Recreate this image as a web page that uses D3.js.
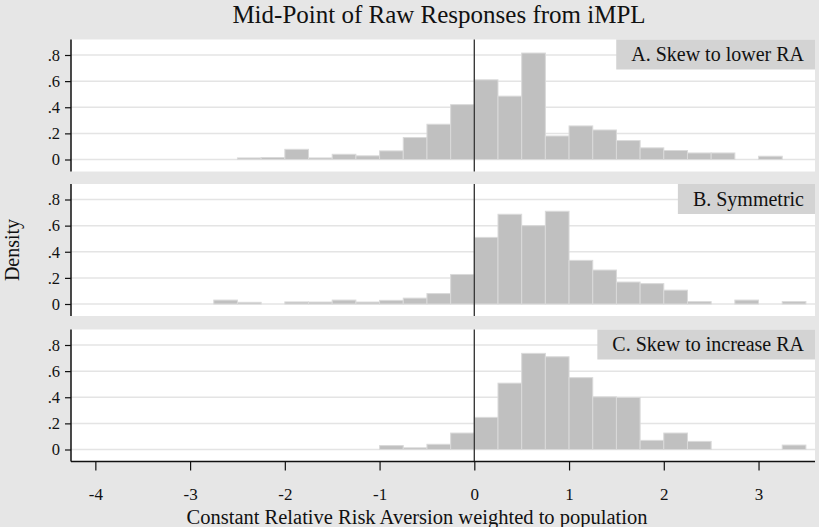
<!DOCTYPE html>
<html>
<head>
<meta charset="utf-8">
<script src="https://cdn.jsdelivr.net/npm/d3@7"></script>
<style>
  html, body { margin: 0; padding: 0; background: #e6e6e6; }
  svg { display: block; }
  text { font-family: "Liberation Serif", "Times New Roman", serif; fill: #111; }
</style>
</head>
<body>
<svg id="chart" width="819" height="527"></svg>
<script>
// Lower edges of the histogram bins (bin width 0.25)
const binWidth = 0.25;
const binStarts = [-2.75, -2.5, -2.25, -2, -1.75, -1.5, -1.25, -1, -0.75, -0.5, -0.25,
                   0, 0.25, 0.5, 0.75, 1, 1.25, 1.5, 1.75, 2, 2.25, 2.5, 2.75, 3, 3.25];

// Density per bin for each panel
const densityA = [0, 0.012, 0.015, 0.078, 0.012, 0.04, 0.028, 0.066, 0.168, 0.27, 0.42,
                  0.61, 0.485, 0.815, 0.18, 0.257, 0.226, 0.145, 0.089, 0.069, 0.05, 0.05, 0, 0.025, 0];
const densityB = [0.03, 0.013, 0, 0.016, 0.015, 0.03, 0.015, 0.028, 0.045, 0.08, 0.226,
                  0.51, 0.687, 0.6, 0.71, 0.334, 0.26, 0.168, 0.156, 0.106, 0.018, 0, 0.03, 0, 0.018];
const densityC = [0, 0, 0, 0, 0, 0, 0, 0.03, 0.013, 0.04, 0.126,
                  0.246, 0.508, 0.736, 0.71, 0.55, 0.403, 0.398, 0.07, 0.126, 0.062, 0, 0, 0, 0.034];

const panelTitles = ["A. Skew to lower RA", "B. Symmetric", "C. Skew to increase RA"];
const xTicks = [-4, -3, -2, -1, 0, 1, 2, 3];
const yTicks = [0, 0.2, 0.4, 0.6, 0.8];
const yTickLabels = ["0", ".2", ".4", ".6", ".8"];

const chartTitle = "Mid-Point of Raw Responses from iMPL";
const xTitle = "Constant Relative Risk Aversion weighted to population";
const yTitle = "Density";

const panels = [densityA, densityB, densityC];

const svg = d3.select("#chart");
const W = 819, H = 527;
svg.append("rect").attr("width", W).attr("height", H).attr("fill", "#e6e6e6");

const plotLeft = 71, plotRight = 815;
const panelTops = [39.5, 184, 329.5];
const panelH = 132;

const x = d3.scaleLinear().domain([-4.257, 3.596]).range([plotLeft, plotRight]);

panels.forEach((vals, i) => {
  const top = panelTops[i];
  const bottom = top + panelH;
  const y = d3.scaleLinear().domain([0, 0.8]).range([top + 120, top + 15.5]);
  const g = svg.append("g");

  // plot region
  g.append("rect")
    .attr("x", plotLeft).attr("y", top)
    .attr("width", plotRight - plotLeft).attr("height", panelH)
    .attr("fill", "#ffffff");

  // horizontal grid lines
  g.selectAll("line.grid").data(yTicks).join("line")
    .attr("class", "grid")
    .attr("x1", plotLeft).attr("x2", plotRight)
    .attr("y1", d => y(d)).attr("y2", d => y(d))
    .attr("stroke", "#e4e4e4").attr("stroke-width", 1.5);

  // histogram bars
  const bins = binStarts.map((s, k) => ({ x0: s, v: vals[k] })).filter(b => b.v > 0);
  g.selectAll("rect.bar").data(bins).join("rect")
    .attr("class", "bar")
    .attr("x", d => x(d.x0))
    .attr("width", d => x(d.x0 + binWidth) - x(d.x0))
    .attr("y", d => y(d.v))
    .attr("height", d => y(0) - y(d.v))
    .attr("fill", "#c0c0c0")
    .attr("stroke", "#dadada").attr("stroke-width", 1);

  // reference line at zero
  g.append("line")
    .attr("x1", x(0)).attr("x2", x(0))
    .attr("y1", top).attr("y2", bottom)
    .attr("stroke", "#3a3a3a").attr("stroke-width", 1.4);

  // panel label box
  const label = g.append("text")
    .attr("x", plotRight - 11).attr("y", top + 21.5)
    .attr("text-anchor", "end")
    .attr("font-size", 20)
    .text(panelTitles[i]);
  const bb = label.node().getBBox();
  g.insert("rect", "text")
    .attr("x", bb.x - 15).attr("y", top)
    .attr("width", plotRight - (bb.x - 15)).attr("height", 30)
    .attr("fill", "#d3d3d3");

  // y axis
  const yAxis = d3.axisLeft(y).tickValues(yTicks)
    .tickFormat((d, k) => yTickLabels[k]).tickSize(6).tickPadding(5);
  const ya = g.append("g").attr("transform", `translate(${plotLeft},0)`).call(yAxis);
  ya.select(".domain").remove();
  ya.append("line")
    .attr("x1", 0).attr("x2", 0).attr("y1", top).attr("y2", bottom)
    .attr("stroke", "#111").attr("stroke-width", 1.5);
  ya.selectAll(".tick line").attr("stroke", "#111").attr("stroke-width", 1.2);
  ya.selectAll(".tick text")
    .attr("font-size", 16.5).attr("fill", "#111")
    .style("font-family", "'Liberation Serif', serif");

  // x axis on the bottom panel only
  if (i === panels.length - 1) {
    const xAxis = d3.axisBottom(x).tickValues(xTicks)
      .tickFormat(d => String(d)).tickSize(9);
    const xa = g.append("g").attr("transform", `translate(0,${bottom})`).call(xAxis);
    xa.select(".domain").remove();
    xa.append("line")
      .attr("x1", plotLeft).attr("x2", plotRight).attr("y1", 0).attr("y2", 0)
      .attr("stroke", "#111").attr("stroke-width", 1.5);
    xa.selectAll(".tick line").attr("stroke", "#111").attr("stroke-width", 1.2);
    xa.selectAll(".tick text")
      .attr("y", 38).attr("dy", 0)
      .attr("font-size", 17).attr("fill", "#111")
      .style("font-family", "'Liberation Serif', serif");
  }
});

// titles
svg.append("text")
  .attr("x", 439).attr("y", 23)
  .attr("text-anchor", "middle").attr("font-size", 25)
  .text(chartTitle);

svg.append("text")
  .attr("x", 417).attr("y", 523.5)
  .attr("text-anchor", "middle").attr("font-size", 20.5)
  .text(xTitle);

svg.append("text")
  .attr("transform", "translate(19,250) rotate(-90)")
  .attr("text-anchor", "middle").attr("font-size", 20)
  .text(yTitle);
</script>
</body>
</html>
